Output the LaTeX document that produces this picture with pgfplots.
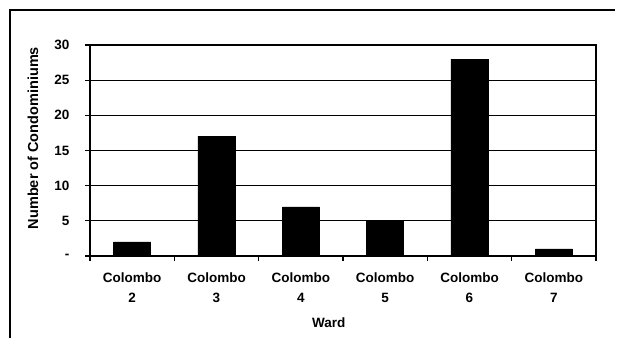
\documentclass[border=0pt]{standalone}
\usepackage{fontspec}
\setmainfont{Liberation Sans}
\usepackage{pgfplots}
\pgfplotsset{compat=1.18}

\begin{document}
\begin{tikzpicture}[x=1pt,y=1pt]
\path[use as bounding box] (0,0) rectangle (624,338);
% outer frame
\draw[line width=1.5pt] (10,0) -- (10,328) -- (615,328);
\begin{axis}[
  at={(90pt,82pt)}, anchor=south west,
  scale only axis, width=506pt, height=211pt,
  xmin=-0.5, xmax=5.5, ymin=0, ymax=30,
  axis line style={line width=1.2pt},
  xtick pos=bottom, ytick pos=left,
  xtick={0,1,2,3,4,5},
  xticklabels={{Colombo\\2},{Colombo\\3},{Colombo\\4},{Colombo\\5},{Colombo\\6},{Colombo\\7}},
  major x tick style={draw=none},
  minor xtick={-0.5,0.5,1.5,2.5,3.5,4.5,5.5},
  minor tick length=5pt,
  minor x tick style={line width=1.1pt, black},
  xticklabel style={align=center, font=\fontsize{13.5}{20}\selectfont\bfseries, yshift=-8pt},
  ytick={0,5,10,15,20,25,30},
  yticklabels={-,5,10,15,20,25,30},
  yticklabel style={font=\fontsize{13.5}{15}\selectfont\bfseries, xshift=-12pt},
  tick align=outside,
  major tick length=5pt,
  major y tick style={line width=1.1pt, black},
  ymajorgrids,
  grid style={line width=1.2pt, black},
  /pgf/number format/assume math mode=true,
  xlabel={Ward},
  xlabel style={at={(axis description cs:0.472,-0.318)}, anchor=center, font=\fontsize{13.5}{15}\selectfont\bfseries},
  ylabel={Number of Condominiums},
  ylabel style={at={(axis description cs:-0.113,0.559)}, anchor=center, rotate=0, font=\fontsize{14.5}{16}\selectfont\bfseries},
  clip=false,
]
\addplot[ybar, bar width=37pt, fill=black, draw=black] coordinates {
  (0,2) (1,17) (2,7) (3,5) (4,28) (5,1)
};
\end{axis}
\end{tikzpicture}
\end{document}
